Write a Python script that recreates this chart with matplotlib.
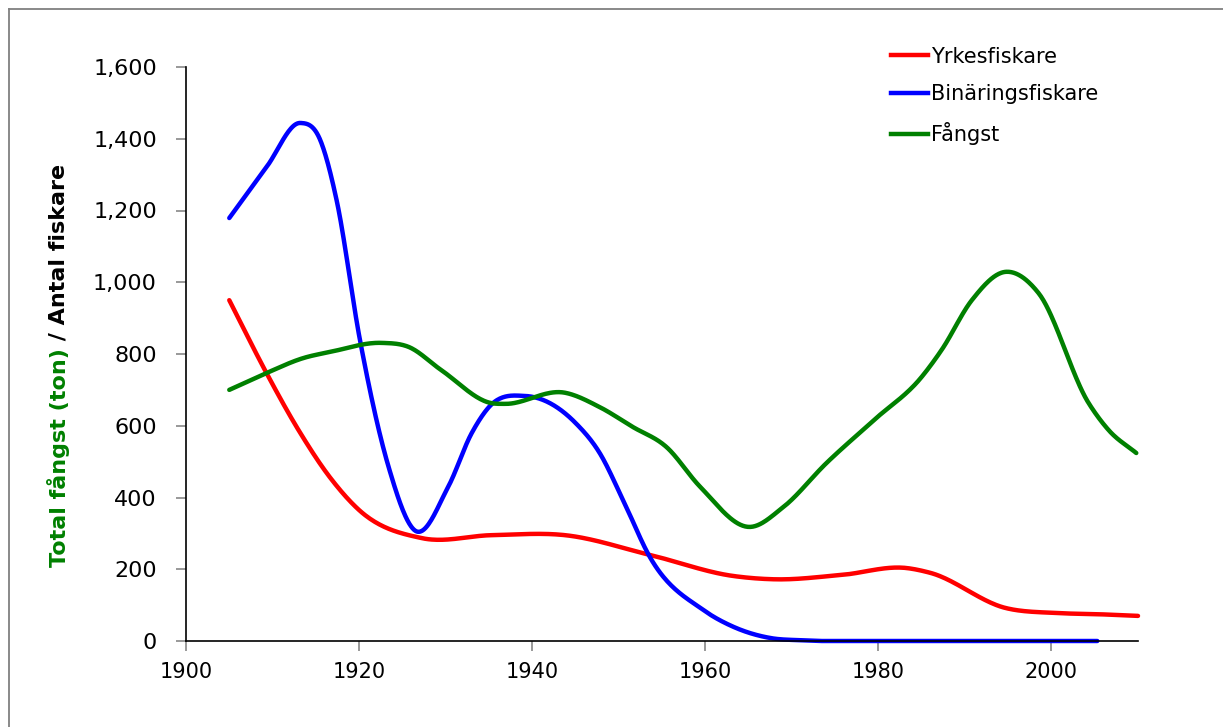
import matplotlib
matplotlib.use("Agg")
import matplotlib.pyplot as plt
import numpy as np
from matplotlib.lines import Line2D

# ---- data ----
yrkes_years = [1905, 1909.3, 1913, 1916.7, 1920, 1927.2, 1935.3, 1943.8, 1953.6,
               1963.3, 1968, 1975.7, 1983.4, 1986, 1994.7, 2000.5, 2005, 2010]
yrkes_vals = [950, 747, 588, 454, 365, 287, 295, 295, 240,
              181, 172, 184, 203, 190, 92, 78, 75, 70]

binar_years = [1905, 1909.3, 1913.2, 1915.5, 1917.4, 1920.1, 1923.4, 1926.4, 1930.3,
               1933, 1935, 1939.2, 1945, 1947.8, 1950.5, 1953.6, 1959.8, 1963.3,
               1967.6, 1971, 1980, 2005.3]
binar_vals = [1179, 1321, 1444, 1397, 1229, 839, 486, 309, 430,
              579, 652, 683, 608, 524, 393, 234, 86, 39,
              8, 2, 0, 0]

fangst_years = [1905, 1909.3, 1913.6, 1916.7, 1922.6, 1925.7, 1929.5, 1935.3, 1936.9,
                1943.8, 1947.8, 1951.6, 1955.5, 1959.4, 1965.2, 1969, 1974, 1979.5,
                1985, 1987.3, 1990.8, 1994.7, 1998.5, 2004.3, 2006.6, 2009.8]
fangst_vals = [700, 747, 789, 806, 831, 820, 755, 663, 661,
               692, 652, 597, 541, 430, 318, 373, 496, 616,
               736, 811, 950, 1029, 970, 663, 588, 524]

labels = ["Yrkesfiskare", "Binäringsfiskare", "Fångst"]
colors = ["#ff0000", "#0000ff", "#008000"]

xticks = [1900, 1920, 1940, 1960, 1980, 2000]
yticks = [0, 200, 400, 600, 800, 1000, 1200, 1400, 1600]


def smooth(xs, ys, n=40):
    """Cubic Hermite curve through the given points (drawing only)."""
    xs = np.asarray(xs, float)
    ys = np.asarray(ys, float)
    h = np.diff(xs)
    d = np.diff(ys) / h
    m = np.zeros_like(ys)
    m[1:-1] = (d[:-1] * h[1:] + d[1:] * h[:-1]) / (h[:-1] + h[1:])
    m[0] = d[0]
    m[-1] = d[-1]
    ox, oy = [], []
    for i in range(len(xs) - 1):
        hh = h[i]
        t = np.linspace(0, 1, n, endpoint=False)
        h00 = 2 * t**3 - 3 * t**2 + 1
        h10 = t**3 - 2 * t**2 + t
        h01 = -2 * t**3 + 3 * t**2
        h11 = t**3 - t**2
        ox.extend(xs[i] + t * hh)
        oy.extend(h00 * ys[i] + h10 * hh * m[i] + h01 * ys[i + 1] + h11 * hh * m[i + 1])
    ox.append(xs[-1])
    oy.append(ys[-1])
    return np.array(ox), np.clip(np.array(oy), 0, None)


plt.rcParams['font.family'] = ['DejaVu Sans']

W, H = 1223, 727
fig = plt.figure(figsize=(W / 100, H / 100), dpi=100)
ax = fig.add_axes([186 / W, 1 - 641 / H, (1138 - 186) / W, (641 - 67) / H])

series = [(yrkes_years, yrkes_vals), (binar_years, binar_vals), (fangst_years, fangst_vals)]
for (xs, ys), c, lab in zip(series, colors, labels):
    sx, sy = smooth(xs, ys)
    ax.plot(sx, sy, color=c, lw=3.2, label=lab, solid_capstyle='round', clip_on=False)

ax.set_xlim(1900, 2010)
ax.set_ylim(0, 1600)
ax.set_xticks(xticks)
ax.set_xticklabels([str(v) for v in xticks], fontsize=15)
ax.set_yticks(yticks)
ax.set_yticklabels([f"{v:,}" for v in yticks], fontsize=16)
ax.spines['top'].set_visible(False)
ax.spines['right'].set_visible(False)
for s in ['left', 'bottom']:
    ax.spines[s].set_color('black')
    ax.spines[s].set_linewidth(1.2)
ax.tick_params(axis='both', direction='out', length=7, color='#888888', width=1.2)
ax.tick_params(axis='x', pad=8)
ax.tick_params(axis='y', pad=14)

handles = [Line2D([0], [0], color=c, lw=3.2) for c in colors]
fig.legend(handles, labels, loc='upper left', bbox_to_anchor=(872 / W, 1 - 28 / H),
           frameon=False, fontsize=15, handlelength=1.8, handletextpad=0.15,
           labelspacing=0.85)

# two-coloured y label
t1 = fig.text(58 / W, 1 - 567 / H, "Total fångst (ton)", rotation=90, color='#008000',
              fontsize=16, fontweight='bold', ha='center', va='bottom')
fig.canvas.draw()
bb = t1.get_window_extent(fig.canvas.get_renderer())
t2 = fig.text(58 / W, bb.y1 / H, " / Antal fiskare", rotation=90, color='black',
              fontsize=16, fontweight='bold', ha='center', va='bottom')

# grey frame
fig.add_artist(Line2D([9 / W, 9 / W], [-0.01, 1 - 9 / H], transform=fig.transFigure,
                      color='#808080', lw=1.3))
fig.add_artist(Line2D([9 / W, 1.01], [1 - 9 / H, 1 - 9 / H], transform=fig.transFigure,
                      color='#808080', lw=1.3))

fig.savefig("out.png", dpi=100)
